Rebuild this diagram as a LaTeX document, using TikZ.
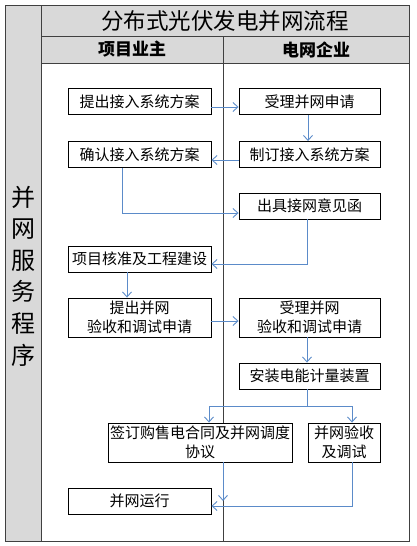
\documentclass[tikz,border=0pt]{standalone}
\usepackage{fontspec}
\setmainfont{Noto Sans CJK SC}
\usetikzlibrary{arrows.meta}
\definecolor{flowblue}{HTML}{5B8BC9}
\definecolor{framegray}{HTML}{404040}

\begin{document}
\begin{tikzpicture}[x=1pt,y=-1pt,>={Straight Barb[length=5pt,width=9pt]},
	box/.style={draw=black,fill=white,line width=0.9pt,inner sep=0pt,minimum width=143pt,minimum height=26pt,align=center,font=\fontsize{15}{19}\selectfont},
	flow/.style={->,draw=flowblue,line width=0.9pt}]
		\useasboundingbox (0,0) rectangle (416,546);
		% 表格
		\fill[gray!30] (5,5) rectangle (41,541);
		\fill[gray!30] (41,5) rectangle (409,63);
		\draw[framegray,line width=0.9pt] (5,5) rectangle (409,541);
		\draw[framegray,line width=0.9pt] (41,5) -- (41,541);
		\draw[framegray,line width=0.9pt] (41,36) -- (409,36);
		\draw[framegray,line width=0.9pt] (41,63) -- (409,63);
		\draw[framegray,line width=0.9pt] (223,36) -- (223,541);
		\node (title) at (225,20.5) {\fontsize{22.5}{24}\selectfont 分布式光伏发电并网流程};
		\node (owner) at (132,49.5) {\fontsize{17}{19}\selectfont\bfseries 项目业主};
		\node (grid) at (316,49.5) {\fontsize{17}{19}\selectfont\bfseries 电网企业};
		\node[align=center,font=\fontsize{24}{31.6}\selectfont] (side) at (23,276) {并\\网\\服\\务\\程\\序};
		% 流程框
		\node[box] (b1) at (139.5,101.5) {提出接入系统方案};
		\node[box,minimum width=141pt] (b2) at (309.5,101.5) {受理并网申请};
		\node[box] (b3) at (139.5,154.5) {确认接入系统方案};
		\node[box,minimum width=141pt] (b4) at (309.5,154.5) {制订接入系统方案};
		\node[box,minimum width=141pt] (b5) at (309.5,206) {出具接网意见函};
		\node[box] (b6) at (139.5,259) {项目核准及工程建设};
		\node[box,minimum height=39pt] (b7) at (139.5,317.5) {提出并网\\验收和调试申请};
		\node[box,minimum width=141pt,minimum height=39pt] (b8) at (309.5,317.5) {受理并网\\验收和调试申请};
		\node[box,minimum width=141pt] (b9) at (309.5,376) {安装电能计量装置};
		\node[box,minimum width=184pt,minimum height=39pt] (b10) at (200,442.5) {签订购售电合同及并网调度\\协议};
		\node[box,minimum width=72pt,minimum height=39pt] (b11) at (344,442.5) {并网验收\\及调试};
		\node[box] (b12) at (139.5,501) {并网运行};
		\coordinate (fork) at (307,406); %分叉点
		% 箭头
		\draw[flow] ([yshift=-5.5pt]b1.east) -- ([yshift=-5.5pt]b2.west);
		\draw[flow] ([xshift=-1.5pt]b2.south) -- ([xshift=-1.5pt]b4.north);
		\draw[flow] ([yshift=-5.5pt]b4.west) -- ([yshift=-5.5pt]b3.east);
		\draw[flow] ([xshift=-17.5pt]b3.south) |- ([yshift=-7pt]b5.west);
		\draw[flow] ([xshift=-2.5pt]b5.south) |- ([yshift=-5pt]b6.east);
		\draw[flow] ([xshift=-12.5pt]b6.south) -- ([xshift=-12.5pt]b7.north);
		\draw[flow] ([yshift=-3.5pt]b7.east) -- ([yshift=-3.5pt]b8.west);
		\draw[flow] ([xshift=-2.5pt]b8.south) -- ([xshift=-2.5pt]b9.north);
		\draw[flow] (b9.south -| fork) -- (fork) -| ([xshift=9pt]b10.north);
		\draw[flow] (fork) -| ([xshift=8pt]b11.north);
		\draw[flow] ([xshift=23pt]b10.south) -- ([xshift=23pt]b10.south |- b12.east);
		\draw[flow] ([xshift=8pt]b11.south) |- ([yshift=-5pt]b12.east);
\end{tikzpicture}
\end{document}
